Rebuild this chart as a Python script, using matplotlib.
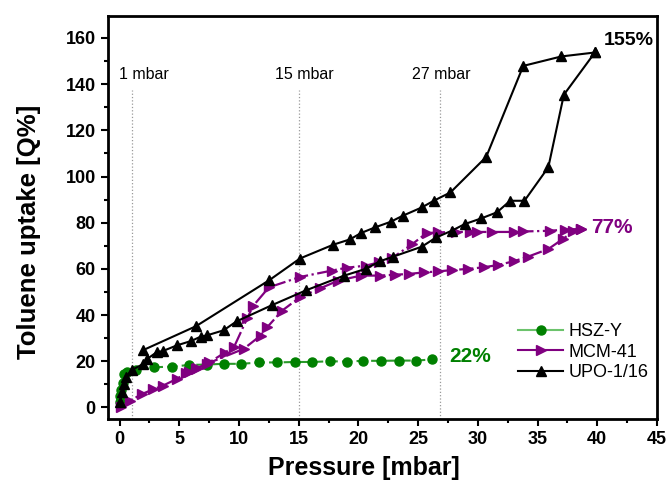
import matplotlib.pyplot as plt
from matplotlib.lines import Line2D
from matplotlib.ticker import MultipleLocator

plt.rcParams['font.family'] = ['Liberation Sans', 'DejaVu Sans']

# HSZ-Y
hsz_p = [0.0, 0.05, 0.14, 0.25, 0.36, 0.6, 1.34, 2.9, 4.35, 5.85, 7.3, 8.7, 10.2, 11.7,
         13.2, 14.7, 16.1, 17.6, 19.0, 20.4, 21.9, 23.4, 24.8, 26.2]
hsz_q = [2.3, 5.0, 7.6, 10.5, 14.6, 15.3, 16.4, 17.4, 17.7, 18.4, 18.6, 18.9, 18.9, 19.5,
         19.5, 19.7, 19.7, 20.0, 19.9, 20.2, 20.2, 20.3, 20.3, 20.8]

# MCM-41 adsorption / desorption
mcm_ads_p = [0.1, 0.9, 1.9, 2.8, 3.65, 4.8, 5.6, 6.4, 7.3, 10.4, 11.8, 12.35, 13.6, 15.1,
             16.8, 18.3, 20.2, 21.8, 23.1, 24.2, 25.5, 26.7, 27.8, 29.2, 30.5, 31.7,
             33.0, 34.2, 35.9, 37.1, 38.0, 38.6]
mcm_ads_q = [0.0, 3.0, 5.9, 7.8, 9.5, 12.4, 15.0, 16.5, 18.9, 25.4, 31.1, 34.7, 41.9, 47.7,
             51.6, 54.9, 57.1, 57.1, 57.5, 57.8, 58.5, 58.9, 59.5, 60.0, 60.7, 61.7,
             63.3, 65.3, 68.6, 72.9, 76.2, 77.3]
mcm_des_p = [38.6, 37.3, 36.0, 33.8, 33.0, 31.2, 29.9, 29.3, 28.2, 26.7, 25.7, 24.5, 22.8,
             21.7, 20.6, 19.0, 17.8, 15.1, 12.5, 11.2, 10.7, 9.6, 8.8, 7.5, 6.5, 5.8]
mcm_des_q = [77.3, 77.0, 76.5, 76.2, 76.0, 76.0, 76.0, 76.0, 76.0, 75.8, 75.5, 70.7, 64.7,
             62.8, 61.4, 60.5, 59.3, 56.5, 52.0, 44.1, 38.8, 26.4, 23.7, 19.5, 17.0, 15.5]

# UPO-1/16 adsorption / desorption
upo_ads_p = [0.05, 0.2, 0.35, 0.5, 1.05, 2.0, 2.3, 3.1, 3.6, 4.8, 6.0, 6.8, 7.3, 8.7, 9.8,
             12.8, 15.6, 18.75, 20.6, 21.8, 22.9, 25.3, 26.5, 27.8, 28.9, 30.3, 31.6,
             32.7, 33.9, 35.9, 37.2, 39.8]
upo_ads_q = [2.3, 6.6, 10.2, 13.1, 16.3, 18.9, 21.0, 23.9, 24.4, 26.9, 28.8, 30.7, 31.2,
             33.4, 37.3, 44.4, 50.7, 57.0, 60.0, 63.3, 65.3, 69.6, 73.6, 76.5, 79.4, 81.9,
             84.5, 89.5, 89.5, 104.0, 135.4, 153.7]
upo_des_p = [39.8, 37.0, 33.8, 30.7, 27.7, 26.3, 25.3, 23.7, 22.7, 21.4, 20.2, 19.3, 17.9,
             15.1, 12.5, 6.4, 2.0]
upo_des_q = [153.7, 152.0, 147.9, 108.5, 93.1, 89.5, 86.6, 83.0, 80.4, 78.0, 75.5, 72.8,
             70.5, 64.5, 55.0, 35.2, 24.9]

marks = [1, 15, 26.85]
mark_labels = ['1 mbar', '15 mbar', '27 mbar']

green = '#008000'
lgreen = '#6cc36c'
purple = '#800080'

fig = plt.figure(figsize=(6.7, 4.91), dpi=100)
ax = fig.add_axes([0.1607, 0.1466, 0.8199, 0.8208])
ax.set_xlim(-1, 45)
ax.set_ylim(-5, 169.5)

# reference lines
for m, lab, tx in zip(marks, mark_labels, [2.0, 15.5, 26.9]):
    ax.plot([m, m], [-5, 137.5], ls=':', color='#999999', lw=0.9)
    ax.text(tx, 144, lab, fontsize=11.5, ha='center', va='center')

ax.plot(hsz_p, hsz_q, ls=(0, (5, 2)), color='#2a9a2a', lw=1.5, marker='o', ms=6.5,
        mfc=green, mec=green)

ax.plot(mcm_ads_p, mcm_ads_q, ls='-.', color=purple, lw=1.6, marker='>', ms=7.5,
        mfc=purple, mec=purple)
ax.plot(mcm_des_p, mcm_des_q, ls='-.', color=purple, lw=1.6, marker='>', ms=7.5,
        mfc=purple, mec=purple)

ax.plot(upo_ads_p, upo_ads_q, ls='-', color='black', lw=1.5, marker='^', ms=6.5)
ax.plot(upo_des_p, upo_des_q, ls='-', color='black', lw=1.5, marker='^', ms=6.5)

ax.text(40.5, 158.8, '155%', fontsize=14, fontweight='bold', va='center')
ax.text(39.5, 77.8, '77%', fontsize=15, fontweight='bold', va='center', color=purple)
ax.text(27.6, 22, '22%', fontsize=15, fontweight='bold', va='center', color=green)

handles = [
    Line2D([], [], color=lgreen, lw=1.5, marker='o', ms=6.5, mfc=green, mec=green),
    Line2D([], [], color=purple, lw=1.5, marker='>', ms=7.5),
    Line2D([], [], color='black', lw=1.5, marker='^', ms=6.5),
]
ax.legend(handles, ['HSZ-Y', 'MCM-41', 'UPO-1/16'], loc='center left',
          bbox_to_anchor=(0.747, 0.166), frameon=False, fontsize=13, borderpad=0,
          borderaxespad=0, handlelength=2.5, handletextpad=0.28, labelspacing=0.18)

ax.xaxis.set_major_locator(MultipleLocator(5))
ax.xaxis.set_minor_locator(MultipleLocator(2.5))
ax.yaxis.set_major_locator(MultipleLocator(20))
ax.yaxis.set_minor_locator(MultipleLocator(10))
ax.tick_params(which='major', direction='out', length=5, width=1.5, labelsize=13)
ax.tick_params(which='minor', direction='out', length=3, width=1.5)
for lab in ax.get_xticklabels() + ax.get_yticklabels():
    lab.set_fontweight('bold')
for s in ax.spines.values():
    s.set_linewidth(2)

ax.set_xlabel('Pressure [mbar]', fontsize=18, fontweight='bold', labelpad=6)
ax.set_ylabel('Toluene uptake [Q%]', fontsize=18.5, fontweight='bold', labelpad=18)
ax.xaxis.label.set_x(0.467)
ax.yaxis.label.set_y(0.465)

fig.savefig('out.png', dpi=100)
